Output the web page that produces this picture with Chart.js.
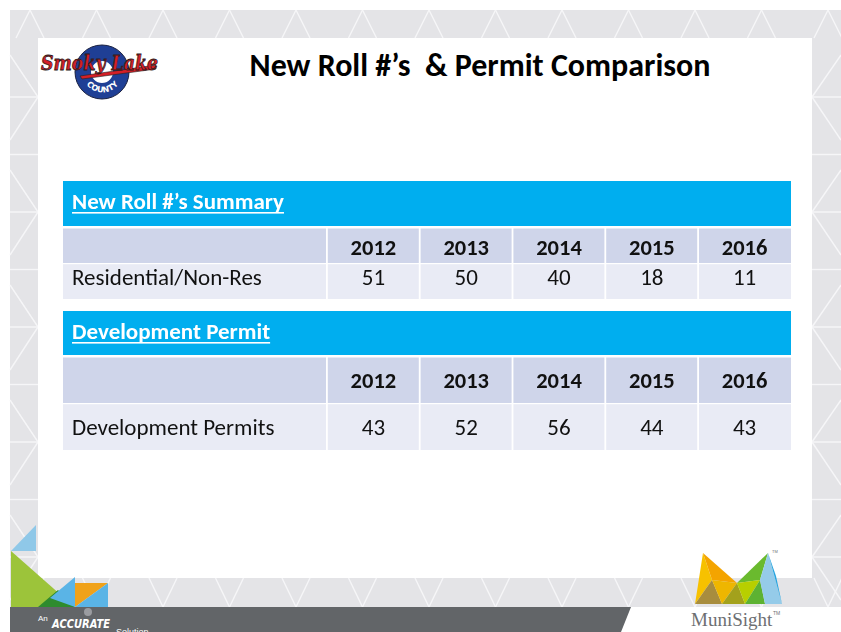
<!DOCTYPE html>
<html>
<head>
<meta charset="utf-8">
<script src="https://cdn.jsdelivr.net/npm/chart.js@4.4.1/dist/chart.umd.min.js"></script>
<style>
  html, body { margin: 0; padding: 0; background: #fff; }
  body { width: 841px; height: 632px; position: relative; overflow: hidden; font-family: Carlito, Lato, sans-serif; }
  #bg { position: absolute; left: 0; top: 0; }
  #title { position: absolute; left: 180px; top: 47px; width: 600px; text-align: center; font-weight: bold; font-size: 32px; line-height: 38px; color: #000; white-space: pre; }
  #tables { position: absolute; left: 63px; top: 181px; }
</style>
</head>
<body>
<svg id="bg" width="841" height="632" xmlns="http://www.w3.org/2000/svg">
  <rect x="10" y="10" width="831" height="597" fill="#e4e4e7"/>
  <g id="deco" stroke="#f6f6f8" stroke-width="1.4" fill="none"></g>
  <rect x="38" y="38" width="774" height="540" fill="#ffffff"/>

  <!-- bottom-left coloured triangles -->
  <polygon points="11,551 36,525 36,551" fill="#8fc8e8"/>
  <polygon points="11,551 62,596 44,607 11,607" fill="#9cc43a"/>
  <polygon points="38,607 58,590 75,607" fill="#2e8b2e"/>
  <polygon points="50,598 75,577 75,607" fill="#5ab4e6"/>
  <polygon points="75,583 108,583 75,607" fill="#f0a21a"/>
  <polygon points="108,583 108,607 75,607" fill="#5ab4e6"/>

  <!-- footer bar -->
  <polygon points="10,607 631,607 621,632 10,632" fill="#626568"/>
  <text x="38" y="621" font-family="Liberation Sans, sans-serif" font-size="8" fill="#ffffff">An</text>
  <circle cx="88" cy="612" r="4" fill="#9a9ca0"/>
  <text x="52" y="628" font-family="DejaVu Sans, sans-serif" font-weight="bold" font-style="italic" font-size="13" fill="#ffffff" textLength="58" lengthAdjust="spacingAndGlyphs">ACCURATE</text>
  <text x="116" y="635" font-family="Liberation Sans, sans-serif" font-size="9" fill="#ffffff">Solution</text>

  <!-- MuniSight logo -->
  <polygon points="703,553 712,580 695,604" fill="#f7c100"/>
  <polygon points="703,553 737,583 712,580" fill="#f4a400"/>
  <polygon points="712,580 695,604 722,604" fill="#a88d3e"/>
  <polygon points="712,580 737,583 722,604" fill="#eeb600"/>
  <polygon points="737,583 722,604 745,604" fill="#a3a11c"/>
  <polygon points="768,553 737,583 760,580" fill="#6aba2e"/>
  <polygon points="737,583 760,580 745,604" fill="#b8cf00"/>
  <polygon points="760,580 745,604 765,604" fill="#5db232"/>
  <polygon points="768,553 782,604 765,604 760,580" fill="#95cbe9"/>
  <polygon points="768,553 776,576 782,604" fill="#2aa5df"/>
  <text x="691" y="626" font-family="Liberation Serif, serif" font-size="19" fill="#6d6f72">MuniSight</text>
  <text x="773" y="615" font-family="Liberation Sans, sans-serif" font-size="5" fill="#6d6f72">TM</text>
  <text x="772" y="553" font-family="Liberation Sans, sans-serif" font-size="4" fill="#6d6f72">TM</text>

  <!-- Smoky Lake County logo -->
  <circle cx="102" cy="72" r="19" fill="none" stroke="#1f3f95" stroke-width="16"/>
  <circle cx="102" cy="72" r="27" fill="none" stroke="#1b2140" stroke-width="1"/>
  <path id="countyArc" d="M84,80 A20,20 0 0 0 121,80" fill="none"/>
  <text font-family="DejaVu Sans, sans-serif" font-weight="bold" font-size="8" fill="#ffffff"><textPath href="#countyArc" startOffset="50%" text-anchor="middle">COUNTY</textPath></text>
  <polygon points="80,76 156,65 156,69 82,79" fill="#d41f26" stroke="#222" stroke-width="0.6"/>
  <text x="41" y="70" font-family="DejaVu Serif, serif" font-weight="bold" font-style="italic" font-size="21" fill="#d41f26" stroke="#2a1a1a" stroke-width="0.8" textLength="117" lengthAdjust="spacingAndGlyphs">Smoky Lake</text>
</svg>

<div id="title">New Roll #’s  &amp; Permit Comparison</div>
<canvas id="tables" width="728" height="269"></canvas>

<script>
// table contents
const years = ['2012', '2013', '2014', '2015', '2016'];
const tableTitles = ['New Roll #’s Summary', 'Development Permit'];
const rowLabels = ['Residential/Non-Res', 'Development Permits'];
const newRolls = [51, 50, 40, 18, 11];
const devPermits = [43, 52, 56, 44, 43];

// layout of the grid (column widths in year-column units, row heights and text baselines in px)
const colWidths = [2.845, 1, 1, 1, 1, 1];
const rowHeights = [46, 36.5, 35.5, 12, 45, 47.5, 46.5];
const baselineFromTop = [28, 27.7, 21.5, 0, 28, 32, 31];
const colEdges = [0];
colWidths.forEach(w => colEdges.push(colEdges[colEdges.length - 1] + w));
const rowEdges = [0];
rowHeights.forEach(h => rowEdges.push(rowEdges[rowEdges.length - 1] + h));

// background pattern of the slide
const svgNS = 'http://www.w3.org/2000/svg';
const deco = document.getElementById('deco');
function line(x1, y1, x2, y2) {
  const l = document.createElementNS(svgNS, 'line');
  l.setAttribute('x1', x1); l.setAttribute('y1', y1);
  l.setAttribute('x2', x2); l.setAttribute('y2', y2);
  deco.appendChild(l);
}
for (let ax = 30; ax < 870; ax += 66.5) {
  line(ax - 14, 38, ax, 10); line(ax, 10, ax + 14, 38);
  line(ax - 14, 578, ax, 607); line(ax, 607, ax + 14, 578);
}
for (let y = 97; y < 590; y += 57.5) {
  line(10, y, 38, y);
  line(812, y, 841, y);
}
for (let y = 40; y < 590; y += 115) {
  line(10, y + 15, 38, y + 57); line(38, y + 57, 10, y + 100);
  line(841, y + 15, 812, y + 57); line(812, y + 57, 841, y + 100);
}

const blue = '#00aeef';
const headFill = '#cfd5ea';
const bodyFill = '#e9ebf5';
const textFont = 'Carlito, Lato, sans-serif';

const cellPlugin = {
  id: 'cells',
  afterDatasetsDraw(chart) {
    const ctx = chart.ctx;
    const X = v => chart.scales.x.getPixelForValue(v);
    const Y = v => chart.scales.y.getPixelForValue(v);
    const left = X(0);
    const right = X(colEdges[colEdges.length - 1]);
    const colCenter = i => (X(colEdges[i + 1]) + X(colEdges[i + 2])) / 2;
    ctx.save();
    chart.data.datasets.forEach((ds, t) => {
      const r = t * 4;
      const tTop = Y(rowEdges[r]), tBot = Y(rowEdges[r + 1]);
      const hTop = tBot, hBot = Y(rowEdges[r + 2]);
      const bTop = hBot, bBot = Y(rowEdges[r + 3]);

      ctx.fillStyle = blue;
      ctx.fillRect(left, tTop, right - left, tBot - tTop);
      ctx.fillStyle = headFill;
      ctx.fillRect(left, hTop, right - left, hBot - hTop);
      ctx.fillStyle = bodyFill;
      ctx.fillRect(left, bTop, right - left, bBot - bTop);

      // white cell borders
      ctx.fillStyle = '#ffffff';
      ctx.fillRect(left, hTop - 1, right - left, 2.5);
      ctx.fillRect(left, bTop - 0.5, right - left, 1.2);
      for (let c = 1; c < colEdges.length - 1; c++) {
        ctx.fillRect(X(colEdges[c]) - 1, hTop, 1.8, bBot - hTop);
      }
      ctx.textBaseline = 'alphabetic';

      // title of the table, underlined
      ctx.font = 'bold 23px ' + textFont;
      ctx.fillStyle = '#ffffff';
      ctx.textAlign = 'left';
      const tBase = tTop + baselineFromTop[r];
      ctx.fillText(ds.tableTitle, left + 9, tBase);
      const tw = ctx.measureText(ds.tableTitle).width;
      ctx.fillRect(left + 9, tBase + 3, tw, 1.6);

      // year headings
      ctx.font = 'bold 22.5px ' + textFont;
      ctx.fillStyle = '#111111';
      ctx.textAlign = 'center';
      const hBase = hTop + baselineFromTop[r + 1];
      chart.data.labels.forEach((yr, i) => ctx.fillText(yr, colCenter(i), hBase));

      // values row
      ctx.font = '23px ' + textFont;
      const bBase = bTop + baselineFromTop[r + 2];
      ctx.textAlign = 'left';
      ctx.fillText(ds.label, left + 9, bBase);
      ctx.textAlign = 'center';
      ds.data.forEach((v, i) => ctx.fillText(String(v), colCenter(i), bBase));
    });
    ctx.restore();
  }
};

new Chart(document.getElementById('tables'), {
  type: 'bar',
  data: {
    labels: years,
    datasets: [
      { label: rowLabels[0], tableTitle: tableTitles[0], data: newRolls, hidden: true },
      { label: rowLabels[1], tableTitle: tableTitles[1], data: devPermits, hidden: true }
    ]
  },
  options: {
    responsive: false,
    animation: false,
    layout: { padding: 0 },
    events: [],
    plugins: { legend: { display: false }, tooltip: { enabled: false } },
    scales: {
      x: { type: 'linear', display: false, offset: false, min: 0, max: colEdges[colEdges.length - 1] },
      y: { type: 'linear', display: false, offset: false, min: 0, max: rowEdges[rowEdges.length - 1], reverse: true }
    }
  },
  plugins: [cellPlugin]
});
</script>
</body>
</html>
